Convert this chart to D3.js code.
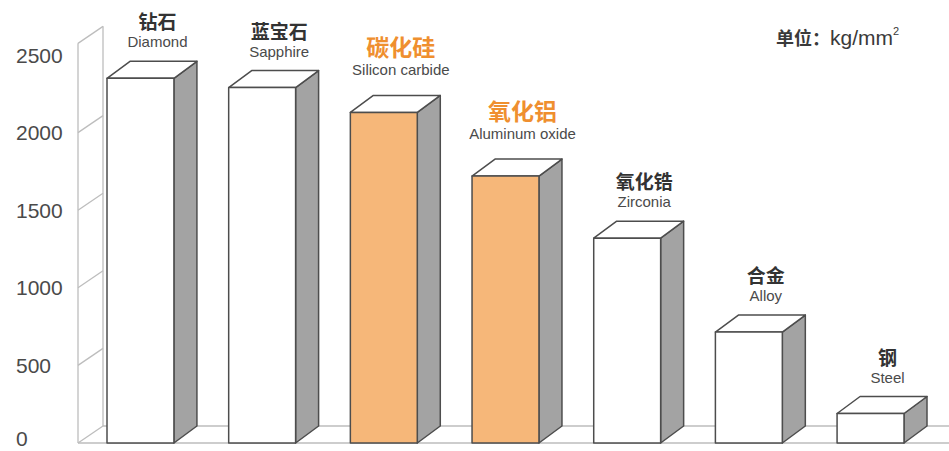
<!DOCTYPE html>
<html>
<head>
<meta charset="utf-8">
<title>硬度对比</title>
<script src="https://cdn.jsdelivr.net/npm/d3@7/dist/d3.min.js"></script>
<style>
  body { margin: 0; background: #fff; }
  svg { display: block; }
</style>
</head>
<body>
<script>
  // data
  var namesCn = ["钻石", "蓝宝石", "碳化硅", "氧化铝", "氧化锆", "合金", "钢"];
  var namesEn = ["Diamond", "Sapphire", "Silicon carbide", "Aluminum oxide", "Zirconia", "Alloy", "Steel"];
  var hardness = [2350, 2290, 2130, 1720, 1320, 715, 190];
  var highlight = [false, false, true, true, false, false, false];
  var ticks = [0, 500, 1000, 1500, 2000, 2500];

  var width = 949, height = 451;
  var depthX = 23, depthY = 17;      // bar depth
  var wallX0 = 78, wallX1 = 103;     // wall front / back edge

  var svg = d3.select("body").append("svg")
              .attr("width", width)
              .attr("height", height);

  var y = d3.scaleLinear().domain([0, 2500]).range([443, 55]);
  var x = d3.scaleBand().domain(namesEn).range([107, 904])
            .paddingInner(0.45).paddingOuter(0);

  // back wall
  var wall = svg.append("g").attr("stroke", "#bdbdbd").attr("stroke-width", 1.3).attr("fill", "none");
  var wallTop = y(2575);
  wall.append("line").attr("x1", wallX0).attr("y1", y(0)).attr("x2", wallX0).attr("y2", wallTop);
  wall.append("line").attr("x1", wallX1).attr("y1", y(0) - depthY).attr("x2", wallX1).attr("y2", wallTop - depthY);
  wall.append("line").attr("x1", wallX0).attr("y1", wallTop).attr("x2", wallX1).attr("y2", wallTop - depthY);
  wall.selectAll("line.grid").data(ticks.filter(function(t) { return t < 2500; }))
      .enter().append("line").attr("class", "grid")
      .attr("x1", wallX0).attr("y1", function(d) { return y(d); })
      .attr("x2", wallX1).attr("y2", function(d) { return y(d) - depthY; });

  // floor
  wall.append("line").attr("x1", wallX0).attr("y1", y(0)).attr("x2", width).attr("y2", y(0));
  wall.append("line").attr("x1", wallX1).attr("y1", y(0) - depthY).attr("x2", width).attr("y2", y(0) - depthY);

  // tick labels
  svg.selectAll("text.tick").data(ticks).enter().append("text")
     .attr("class", "tick")
     .attr("x", 16)
     .attr("y", function(d) { return Math.min(y(d) + 2, 440); })
     .attr("dominant-baseline", "middle")
     .attr("font-family", "Liberation Sans, Arial, sans-serif")
     .attr("font-size", 21)
     .attr("fill", "#4a4a4a")
     .text(function(d) { return d; });

  // bars
  var bw = x.bandwidth(), base = y(0);
  var bars = svg.selectAll("g.bar").data(namesEn).enter().append("g")
                .attr("class", "bar")
                .attr("stroke", "#4d4d4d")
                .attr("stroke-width", 1.5)
                .attr("stroke-linejoin", "round");

  bars.append("polygon")
      .attr("fill", "#a3a3a3")
      .attr("points", function(d, i) {
        var x1 = x(d) + bw, t = y(hardness[i]);
        return [[x1, t], [x1 + depthX, t - depthY], [x1 + depthX, base - depthY], [x1, base]].join(" ");
      });
  bars.append("polygon")
      .attr("fill", "#ffffff")
      .attr("points", function(d, i) {
        var x0 = x(d), x1 = x0 + bw, t = y(hardness[i]);
        return [[x0, t], [x0 + depthX, t - depthY], [x1 + depthX, t - depthY], [x1, t]].join(" ");
      });
  bars.append("rect")
      .attr("x", function(d) { return x(d); })
      .attr("y", function(d, i) { return y(hardness[i]); })
      .attr("width", bw)
      .attr("height", function(d, i) { return base - y(hardness[i]); })
      .attr("fill", function(d, i) { return highlight[i] ? "#f6b779" : "#ffffff"; });

  // bar labels
  var labels = svg.selectAll("g.label").data(namesEn).enter().append("g")
                  .attr("class", "label")
                  .attr("text-anchor", "middle")
                  .attr("transform", function(d, i) {
                    var gap = highlight[i] ? 20 : 14;
                    return "translate(" + (x(d) + bw / 2 + 17) + "," + (y(hardness[i]) - depthY - gap) + ")";
                  });
  labels.append("text")
        .attr("font-family", "Liberation Sans, Arial, sans-serif")
        .attr("font-size", 15)
        .attr("fill", "#4a4a4a")
        .text(function(d) { return d; });
  labels.append("text")
        .attr("y", function(d, i) { return highlight[i] ? -19 : -18; })
        .attr("font-family", "Noto Sans CJK SC, sans-serif")
        .attr("font-weight", "bold")
        .attr("font-size", function(d, i) { return highlight[i] ? 23 : 19; })
        .attr("fill", function(d, i) { return highlight[i] ? "#ef8f2f" : "#333333"; })
        .text(function(d, i) { return namesCn[i]; });

  // unit
  var unit = svg.append("text")
                .attr("x", 776).attr("y", 45)
                .attr("fill", "#3a3a3a");
  unit.append("tspan").attr("font-family", "Noto Sans CJK SC, sans-serif").attr("font-weight", "bold")
      .attr("font-size", 18).text("单位：");
  unit.append("tspan").attr("font-family", "Liberation Sans, Arial, sans-serif")
      .attr("font-size", 21).text("kg/mm");
  unit.append("tspan").attr("font-family", "Liberation Sans, Arial, sans-serif")
      .attr("font-size", 11).attr("dy", -10).text("2");
</script>
</body>
</html>
